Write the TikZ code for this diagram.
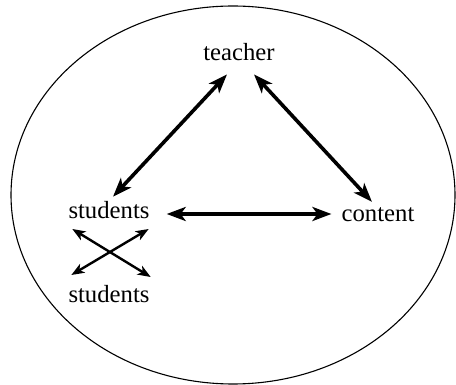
\documentclass[tikz,border=0pt]{standalone}
\usepackage{fontspec}
\setmainfont{Liberation Serif}
\usetikzlibrary{arrows.meta,calc}
\begin{document}
\begin{tikzpicture}[x=1pt,y=-1pt,
  lbl/.style={inner sep=0pt,anchor=base,font=\fontsize{24.7}{30}\selectfont},
  bigarr/.style={line width=3.6pt,{Stealth[length=19pt,width=14pt,inset=5pt]}-{Stealth[length=19pt,width=14pt,inset=5pt]}},
  smallarr/.style={line width=2.4pt,{Stealth[length=13pt,width=10pt,inset=3.5pt]}-{Stealth[length=13pt,width=10pt,inset=3.5pt]}}]
\useasboundingbox (0,0) rectangle (456,385);
\draw[line width=1.1pt] (233,195) ellipse [x radius=222, y radius=189];
\node[lbl] (teacher) at (239,61) {teacher};
\node[lbl] (students) at (109,219) {students};
\node[lbl] (content) at (378,222) {content};
\node[lbl] (students2) at (109,303) {students};
\draw[bigarr] ($(teacher.south)+(-12,13)$) -- ($(students.north)+(4,-5)$);
\draw[bigarr] ($(teacher.south)+(15,13)$) -- ($(content.north)+(-6,-6)$);
\draw[bigarr] ($(students.base east)+(17,-5)$) -- ($(content.base west)+(-10,-8)$);
\draw[smallarr] ($(students.base west)+(4,10)$) -- ($(students2.base east)+(1,-26)$);
\draw[smallarr] ($(students.base east)+(-1,10)$) -- ($(students2.base west)+(3,-28)$);
\end{tikzpicture}
\end{document}
